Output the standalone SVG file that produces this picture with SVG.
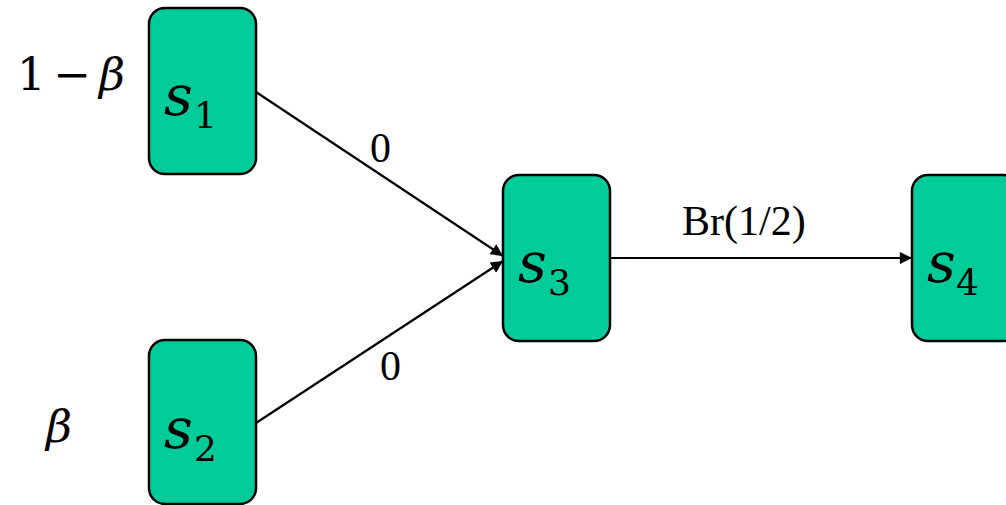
<svg xmlns="http://www.w3.org/2000/svg" width="1006" height="505" viewBox="0 0 1006 505">
  <defs>
    <style>
      .node rect { fill: #00CC99; stroke: #000; stroke-width: 2.5; }
      .var { font-family: "DejaVu Serif", "Liberation Serif", serif; font-style: italic; font-size: 56px; fill: #000; }
      .sub { font-family: "DejaVu Serif", "Liberation Serif", serif; font-size: 36px; fill: #000; }
      .math { font-family: "DejaVu Serif", "Liberation Serif", serif; font-size: 45px; fill: #000; }
      .lbl { font-family: "Liberation Serif", serif; font-size: 42px; fill: #000; }
      .edge { stroke: #000; stroke-width: 2.2; fill: none; marker-end: url(#arrow); }
    </style>
    <marker id="arrow" viewBox="0 0 10 10" refX="10" refY="5" markerWidth="6.5" markerHeight="5.5" orient="auto" markerUnits="strokeWidth">
      <path d="M0,0 L10,5 L0,10 z" fill="#000"/>
    </marker>
  </defs>

  <!-- initial probabilities -->
  <text class="math" x="17" y="90">1</text>
  <text class="math" x="72" y="90" text-anchor="middle">−</text>
  <text class="math" x="99" y="90" font-style="italic">β</text>
  <text class="math" x="46" y="442" font-style="italic">β</text>

  <!-- connectors -->
  <g id="connectors">
    <line class="edge" x1="256" y1="92" x2="503" y2="256"/>
    <line class="edge" x1="256" y1="423" x2="503" y2="261"/>
    <line class="edge" x1="610" y1="258" x2="912" y2="258"/>
    <text class="lbl" x="370" y="162">0</text>
    <text class="lbl" x="380" y="380">0</text>
    <text class="lbl" x="682" y="235">Br(1/2)</text>
  </g>

  <g id="s1" class="node">
    <rect x="149" y="8" width="107" height="166" rx="16"/>
    <text class="var" x="164" y="115">s</text>
    <text class="sub" x="194" y="128">1</text>
  </g>

  <g id="s2" class="node">
    <rect x="149" y="340" width="107" height="164" rx="16"/>
    <text class="var" x="164" y="448">s</text>
    <text class="sub" x="194" y="461">2</text>
  </g>

  <g id="s3" class="node">
    <rect x="503" y="175" width="107" height="166" rx="16"/>
    <text class="var" x="518" y="282">s</text>
    <text class="sub" x="548" y="295">3</text>
  </g>

  <g id="s4" class="node">
    <rect x="912" y="175" width="107" height="166" rx="16"/>
    <text class="var" x="927" y="282">s</text>
    <text class="sub" x="956" y="295">4</text>
  </g>
</svg>
